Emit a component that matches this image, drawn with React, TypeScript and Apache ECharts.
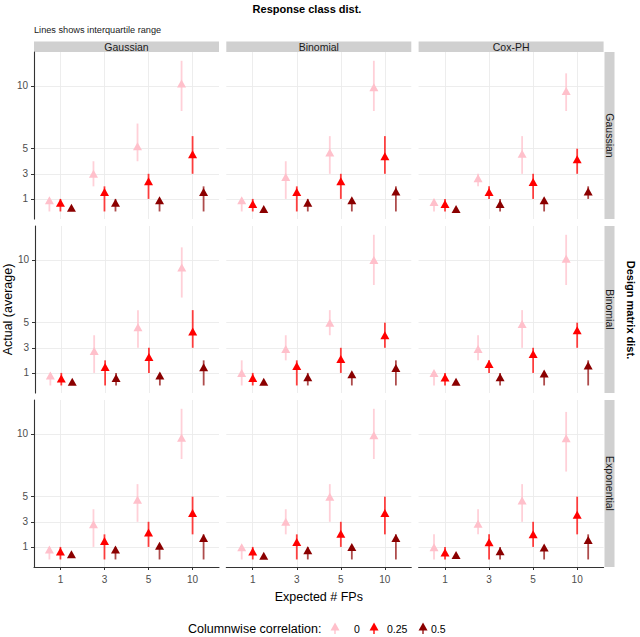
import React, { useEffect, useRef } from "react";
import * as echarts from "echarts";

// ---------- data ----------
const fpLabels = ["1", "3", "5", "10"];
const corrLabels = ["0", "0.25", "0.5"];
const responseDists = ["Gaussian", "Binomial", "Cox-PH"];
const designDists = ["Gaussian", "Binomial", "Exponential"];
const yTicks = [1, 3, 5, 10];

// each array: rows = correlation 0, 0.25, 0.5 ; cols = expected FPs 1, 3, 5, 10
// design Gaussian
const meanGaussGauss = [[0.9, 3.0, 5.2, 10.2], [0.7, 1.55, 2.4, 4.55], [0.3, 0.7, 0.9, 1.55]];
const loGaussGauss = [[0, 2, 4, 8], [0, 0, 1, 3], [0, 0, 0, 0]];
const hiGaussGauss = [[1, 4, 7, 12], [1, 2, 3, 6], [0, 1, 1, 2]];

const meanGaussBinom = [[0.9, 2.75, 4.7, 9.9], [0.6, 1.55, 2.4, 4.4], [0.2, 0.7, 0.9, 1.6]];
const loGaussBinom = [[0, 1, 3, 8], [0, 0, 1, 3], [0, 0, 0, 0]];
const hiGaussBinom = [[1, 4, 6, 12], [1, 2, 3, 6], [0, 1, 1, 2]];

const meanGaussCox = [[0.75, 2.65, 4.6, 9.6], [0.6, 1.55, 2.35, 4.15], [0.2, 0.6, 0.9, 1.6]];
const loGaussCox = [[0, 2, 3, 8], [0, 1, 1, 3], [0, 0, 0, 1]];
const hiGaussCox = [[1, 3, 6, 11], [1, 2, 3, 5], [0, 1, 1, 2]];

// design Binomial
const meanBinomGauss = [[0.8, 2.75, 4.63, 9.4], [0.55, 1.47, 2.26, 4.3], [0.3, 0.6, 0.8, 1.45]];
const loBinomGauss = [[0, 1, 3, 7], [0, 0, 1, 3], [0, 0, 0, 0]];
const hiBinomGauss = [[1, 4, 6, 11], [1, 2, 3, 6], [0, 1, 1, 2]];

const meanBinomBinom = [[1.0, 2.9, 5.0, 10.0], [0.6, 1.55, 2.1, 4.0], [0.3, 0.65, 0.9, 1.4]];
const loBinomBinom = [[0, 2, 4, 8], [0, 0, 1, 3], [0, 0, 0, 0]];
const hiBinomBinom = [[2, 4, 6, 12], [1, 2, 3, 5], [0, 1, 1, 2]];

const meanBinomCox = [[1.0, 2.9, 4.9, 10.1], [0.63, 1.7, 2.5, 4.4], [0.3, 0.65, 0.95, 1.6]];
const loBinomCox = [[0, 2, 3, 8], [0, 1, 1, 3], [0, 0, 0, 0]];
const hiBinomCox = [[1, 4, 6, 12], [1, 2, 3, 5], [0, 1, 1, 2]];

// design Exponential
const meanExpGauss = [[0.8, 2.8, 4.75, 9.7], [0.63, 1.47, 2.15, 3.7], [0.42, 0.8, 1.1, 1.7]];
const loExpGauss = [[0, 1, 3, 8], [0, 0, 1, 2], [0, 0, 0, 0]];
const hiExpGauss = [[1, 4, 6, 12], [1, 2, 3, 5], [0, 1, 1, 2]];

const meanExpBinom = [[0.97, 3.0, 5.0, 9.9], [0.63, 1.4, 2.05, 3.7], [0.3, 0.74, 1.0, 1.7]];
const loExpBinom = [[0, 2, 3, 8], [0, 0, 1, 2], [0, 0, 0, 0]];
const hiExpBinom = [[1, 4, 6, 12], [1, 2, 3, 5], [0, 1, 1, 2]];

const meanExpCox = [[0.97, 2.85, 4.7, 9.65], [0.55, 1.37, 2.0, 3.57], [0.35, 0.66, 0.95, 1.55]];
const loExpCox = [[0, 2, 3, 7], [0, 0, 1, 2], [0, 0, 0, 0]];
const hiExpCox = [[2, 4, 6, 11.75], [1, 2, 3, 5], [0, 1, 1, 2]];

// ---------- styling ----------
const FONT = "'Liberation Sans', Arial, Helvetica, sans-serif";
const pointColors = ["#FFC0CB", "#FF0000", "#8B0000"];
const lineColors = ["rgba(255,192,203,0.75)", "rgba(255,0,0,0.75)", "rgba(139,0,0,0.7)"];
const dodge = [-0.25, 0, 0.25];

const colLeft = [34, 226.3, 418.6];
const rowTop = [52, 226, 400];
const panelW = 185;
const panelH = 167;
const legendY = 629;

function buildOption() {
  const panels = [
    [[meanGaussGauss, loGaussGauss, hiGaussGauss], [meanGaussBinom, loGaussBinom, hiGaussBinom], [meanGaussCox, loGaussCox, hiGaussCox]],
    [[meanBinomGauss, loBinomGauss, hiBinomGauss], [meanBinomBinom, loBinomBinom, hiBinomBinom], [meanBinomCox, loBinomCox, hiBinomCox]],
    [[meanExpGauss, loExpGauss, hiExpGauss], [meanExpBinom, loExpBinom, hiExpBinom], [meanExpCox, loExpCox, hiExpCox]],
  ];

  const grid: any[] = [];
  const xAxis: any[] = [];
  const yAxis: any[] = [];
  const series: any[] = [];
  const graphic: any[] = [];

  for (let r = 0; r < 3; r++) {
    for (let c = 0; c < 3; c++) {
      const g = r * 3 + c;
      grid.push({ left: colLeft[c], top: rowTop[r], width: panelW, height: panelH, containLabel: false });
      const bottom = r === 2;
      const left = c === 0;
      xAxis.push({
        type: "value",
        gridIndex: g,
        min: 0.4,
        max: 4.6,
        axisLine: { show: bottom, onZero: false, lineStyle: { color: "#333", width: 1.1 } },
        axisTick: { show: bottom, length: 3, customValues: [1, 2, 3, 4], lineStyle: { color: "#333" } },
        axisLabel: {
          show: bottom,
          customValues: [1, 2, 3, 4],
          formatter: (v: number) => fpLabels[Math.round(v) - 1] ?? "",
          color: "#4d4d4d",
          fontSize: 10,
          margin: 7,
          fontFamily: FONT,
        },
        splitLine: { show: true, lineStyle: { color: "#ebebeb", width: 0.9 } },
        name: bottom && c === 1 ? "Expected # FPs" : "",
        nameLocation: "middle",
        nameGap: 23,
        nameTextStyle: { fontSize: 12.5, color: "#000", fontFamily: FONT },
      });
      yAxis.push({
        type: "value",
        gridIndex: g,
        min: -0.6,
        max: 12.7,
        axisLine: { show: left, onZero: false, lineStyle: { color: "#333", width: 1.1 } },
        axisTick: { show: left, length: 3, customValues: yTicks, lineStyle: { color: "#333" } },
        axisLabel: {
          show: left,
          customValues: yTicks,
          color: "#4d4d4d",
          fontSize: 10,
          margin: 6,
          fontFamily: FONT,
        },
        splitLine: { show: true, lineStyle: { color: "#ebebeb", width: 0.9 } },
        name: left && r === 1 ? "Actual (average)" : "",
        nameLocation: "middle",
        nameGap: 18,
        nameTextStyle: { fontSize: 12.5, color: "#000", fontFamily: FONT },
      });

      const [mean, lo, hi] = panels[r][c];
      const barData: any[] = [];
      for (let k = 0; k < 3; k++) {
        for (let i = 0; i < 4; i++) {
          barData.push([i + 1 + dodge[k], lo[k][i], hi[k][i], k]);
        }
      }
      series.push({
        type: "custom",
        xAxisIndex: g,
        yAxisIndex: g,
        silent: true,
        z: 2,
        encode: { x: 0, y: [1, 2] },
        data: barData,
        renderItem: (params: any, api: any) => {
          const x = api.value(0);
          const p1 = api.coord([x, api.value(1)]);
          const p2 = api.coord([x, api.value(2)]);
          const k = api.value(3);
          return {
            type: "line",
            shape: { x1: p1[0], y1: p1[1], x2: p2[0], y2: p2[1] },
            style: { stroke: lineColors[k], lineWidth: 1.8 },
          };
        },
      });
      for (let k = 0; k < 3; k++) {
        series.push({
          type: "scatter",
          name: corrLabels[k],
          xAxisIndex: g,
          yAxisIndex: g,
          silent: true,
          z: 3,
          symbol: "triangle",
          symbolSize: [9, 8],
          itemStyle: { color: pointColors[k], opacity: 1 },
          data: mean[k].map((v: number, i: number) => [i + 1 + dodge[k], v]),
        });
      }
    }
  }

  // top strips
  for (let c = 0; c < 3; c++) {
    graphic.push({
      type: "rect",
      shape: { x: colLeft[c], y: 41.5, width: panelW, height: 10.5 },
      style: { fill: "#d0d0d0" },
      silent: true,
    });
    graphic.push({
      type: "text",
      x: colLeft[c] + panelW / 2,
      y: 47,
      style: { text: responseDists[c], fontSize: 10.5, fontFamily: FONT, fill: "#1a1a1a", align: "center", verticalAlign: "middle" },
      silent: true,
    });
  }
  // right strips
  for (let r = 0; r < 3; r++) {
    graphic.push({
      type: "rect",
      shape: { x: 604.5, y: rowTop[r], width: 10, height: panelH },
      style: { fill: "#d0d0d0" },
      silent: true,
    });
    graphic.push({
      type: "text",
      x: 609.5,
      y: rowTop[r] + panelH / 2,
      rotation: -Math.PI / 2,
      style: { text: designDists[r], fontSize: 10.5, fontFamily: FONT, fill: "#1a1a1a", align: "center", verticalAlign: "middle" },
      silent: true,
    });
  }
  // titles
  graphic.push({
    type: "text",
    x: 307,
    y: 9,
    style: { text: "Response class dist.", fontSize: 11, fontWeight: "bold", fontFamily: FONT, fill: "#000", align: "center", verticalAlign: "middle" },
    silent: true,
  });
  graphic.push({
    type: "text",
    x: 34,
    y: 30,
    style: { text: "Lines shows interquartile range", fontSize: 9.2, fontFamily: FONT, fill: "#1a1a1a", align: "left", verticalAlign: "middle" },
    silent: true,
  });
  graphic.push({
    type: "text",
    x: 631,
    y: 310,
    rotation: -Math.PI / 2,
    style: { text: "Design matrix dist.", fontSize: 11, fontWeight: "bold", fontFamily: FONT, fill: "#000", align: "center", verticalAlign: "middle" },
    silent: true,
  });
  // legend
  graphic.push({
    type: "text",
    x: 188,
    y: legendY,
    style: { text: "Columnwise correlation:", fontSize: 12.5, fontFamily: FONT, fill: "#000", align: "left", verticalAlign: "middle" },
    silent: true,
  });
  const keyX = [335, 374, 423];
  const labelX = [354, 387, 431];
  for (let k = 0; k < 3; k++) {
    const x = keyX[k];
    graphic.push({
      type: "line",
      shape: { x1: x, y1: legendY + 5, x2: x, y2: legendY - 3 },
      style: { stroke: lineColors[k], lineWidth: 1.8 },
      silent: true,
    });
    graphic.push({
      type: "polygon",
      shape: { points: [[x - 4.5, legendY + 1.5], [x + 4.5, legendY + 1.5], [x, legendY - 6.5]] },
      style: { fill: pointColors[k] },
      silent: true,
    });
    graphic.push({
      type: "text",
      x: labelX[k],
      y: legendY,
      style: { text: corrLabels[k], fontSize: 10.5, fontFamily: FONT, fill: "#000", align: "left", verticalAlign: "middle" },
      silent: true,
    });
  }

  return {
    animation: false,
    backgroundColor: "#fff",
    textStyle: { fontFamily: FONT },
    grid,
    xAxis,
    yAxis,
    series,
    graphic,
  };
}

export default function App() {
  const ref = useRef<HTMLDivElement>(null);
  useEffect(() => {
    if (!ref.current) return;
    const chart = echarts.init(ref.current, null, { renderer: "svg" });
    chart.setOption(buildOption() as any);
    return () => chart.dispose();
  }, []);
  return <div ref={ref} style={{ position: "fixed", left: 0, top: 0, width: 640, height: 637 }} />;
}
